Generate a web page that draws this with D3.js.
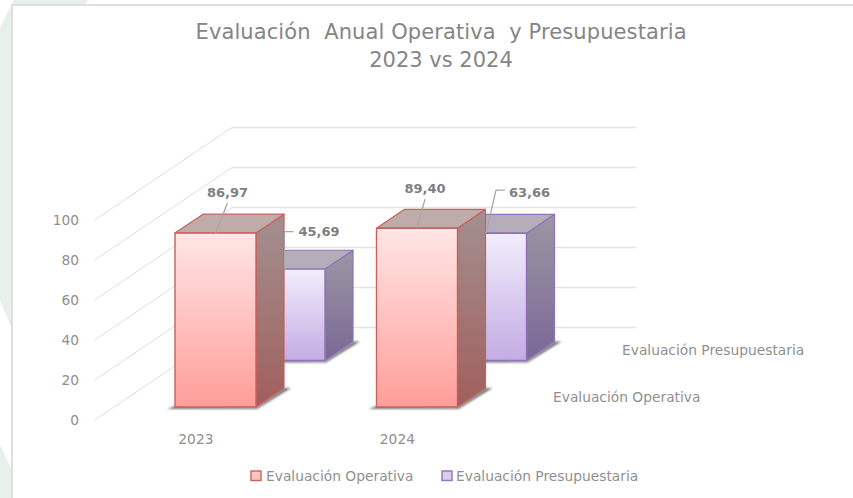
<!DOCTYPE html>
<html>
<head>
<meta charset="utf-8">
<script src="https://cdn.jsdelivr.net/npm/d3@7"></script>
<style>
    html, body { margin: 0; padding: 0; background: #fff; }
    svg { display: block; }
    text { font-family: "DejaVu Sans", sans-serif; fill: #8f8f8f; }
    .title { font-size: 21px; fill: #858585; }
    .tick-label { font-size: 13.8px; }
    .value-label { font-size: 13px; font-weight: bold; fill: #7f7f7f; }
</style>
</head>
<body>
<script>
const categories = ['2023', '2024'];
const seriesNames = ['Evaluación Operativa', 'Evaluación Presupuestaria'];
const operativa = [86.97, 89.40];
const presupuestaria = [45.69, 63.66];
const yTicks = [0, 20, 40, 60, 80, 100];

/**
 * Visual configs.
 */
const visWidth = 853, visHeight = 498,
    baseY = 407,
    barDepth = 0.406, // Depth of a bar, in units of the series step
    wallDepth = 1.71,
    floorFront = -0.284;

const seriesStyles = [
    { stroke: '#c8605c', front: ['#ffe6e6', '#ff9d99'], side: ['#a39090', '#a05f5c'], top: '#c0abab', swatch: '#f9c5c3' },
    { stroke: '#8f72b8', front: ['#f2edfc', '#c3ace3'], side: ['#9c96a3', '#7a6896'], top: '#b5aeba', swatch: '#d9cbee' }
];

// Leader line bends and label anchors, relative to the top centre of the bar's front face
const leaders = [
    [{ points: [[12, -30]], label: [12, -41], anchor: 'middle' }, { points: [[0, -37.5], [9, -37.5]], label: [14, -37.5], anchor: 'start' }],
    [{ points: [[8, -29]], label: [8, -40], anchor: 'middle' }, { points: [[10, -43], [19, -43]], label: [23, -41], anchor: 'start' }]
];

/**
 * D3.
 */
const xScale = d3.scaleBand().domain(categories).range([175, 457.5]).paddingInner(0.598).paddingOuter(0);
const yScale = d3.scaleLinear().domain([0, 100]).range([baseY, baseY - 200]);
const depthX = d3.scaleLinear().domain([0, 1]).range([0, 69]);
const depthY = d3.scaleLinear().domain([0, 1]).range([0, -46.5]);
const formatValue = v => d3.format('.2f')(v).replace('.', ',');
const line = d3.line();

// Oblique projection: x on screen, value, depth
const project = (px, value, z) => [px + depthX(z), yScale(value) + depthY(z)];

const svg = d3.select('body').append('svg').attr('width', visWidth).attr('height', visHeight);
const defs = svg.append('defs');

defs.append('filter').attr('id', 'floor-shadow')
    .attr('x', '-20%').attr('y', '-50%').attr('width', '140%').attr('height', '200%')
    .append('feGaussianBlur').attr('stdDeviation', 1.1);

function addGradient(id, stops, x2, y2) {
    const g = defs.append('linearGradient').attr('id', id)
        .attr('x1', 0).attr('y1', 0).attr('x2', x2).attr('y2', y2);
    g.append('stop').attr('offset', 0).attr('stop-color', stops[0]);
    g.append('stop').attr('offset', 1).attr('stop-color', stops[1]);
}

seriesStyles.forEach((s, i) => {
    addGradient('front-' + i, s.front, 0, 1);
    addGradient('side-' + i, s.side, 0, 1);
});

/**
 * Page background and the chart panel.
 */
svg.append('path').attr('fill', '#e9efea')
    .attr('d', 'M14,0 L88,0 L85,5 L12,5 L12,330 L0,300 L0,28 Z');
svg.append('path').attr('fill', '#e9efea')
    .attr('d', 'M0,445 L12,470 L12,498 L0,498 Z');
svg.append('rect')
    .attr('x', 12).attr('y', 5).attr('width', visWidth).attr('height', visHeight)
    .attr('fill', '#fff').attr('stroke', '#dcdcdc').attr('stroke-width', 1.8);

/**
 * Title.
 */
const title = svg.append('text').attr('class', 'title').attr('text-anchor', 'middle');
title.append('tspan').attr('x', 441).attr('y', 39).attr('textLength', 491)
    .text('Evaluación  Anual Operativa  y Presupuestaria').attr('xml:space', 'preserve');
title.append('tspan').attr('x', 441).attr('y', 67).text('2023 vs 2024');

/**
 * Walls.
 */
const grid = svg.append('g').attr('fill', 'none');
const wallStart = project(xScale('2023') - 61, 0, floorFront)[0];
const wallCorner = project(xScale('2023') - 61, 0, wallDepth)[0];

grid.selectAll('.diag').data(yTicks).join('line').attr('class', 'diag')
    .attr('x1', wallStart).attr('x2', wallCorner)
    .attr('y1', d => project(0, d, floorFront)[1])
    .attr('y2', d => project(0, d, wallDepth)[1])
    .attr('stroke', '#dcdcdc').attr('stroke-width', 1);

grid.selectAll('.wall').data(yTicks).join('line').attr('class', 'wall')
    .attr('x1', wallCorner).attr('x2', 636)
    .attr('y1', d => project(0, d, wallDepth)[1])
    .attr('y2', d => project(0, d, wallDepth)[1])
    .attr('stroke', '#e4e4e4').attr('stroke-width', 1.4);

/**
 * Axes.
 */
const yAxis = svg.append('g')
    .attr('transform', 'translate(83,' + (project(0, 0, floorFront)[1] - baseY) + ')')
    .call(d3.axisLeft(yScale).tickValues(yTicks).tickSize(0).tickPadding(4));
yAxis.select('.domain').remove();
yAxis.selectAll('text').attr('class', 'tick-label')
    .style('font-family', '"DejaVu Sans", sans-serif');

svg.selectAll('.cat-label').data(categories).join('text')
    .attr('class', 'cat-label tick-label')
    .attr('text-anchor', 'middle')
    .attr('x', d => project(xScale(d) + xScale.bandwidth() / 2, 0, floorFront)[0])
    .attr('y', 444)
    .text(d => d);

svg.selectAll('.series-label').data(seriesNames).join('text')
    .attr('class', 'series-label tick-label')
    .attr('x', (d, i) => project(539, 0, i + barDepth / 2)[0])
    .attr('y', (d, i) => project(539, 0, i + barDepth / 2)[1] + 4)
    .text(d => d);

/**
 * Bars: back series first so the front one covers it.
 */
const seriesValues = [operativa, presupuestaria];
const barData = [1, 0].flatMap(s => categories.map((c, i) => ({ category: c, catIdx: i, series: s, value: seriesValues[s][i] })));

const bars = svg.append('g').selectAll('.bar').data(barData).join('g').attr('class', 'bar');

bars.each(function(d) {
    const g = d3.select(this),
        style = seriesStyles[d.series],
        x0 = xScale(d.category),
        x1 = x0 + xScale.bandwidth(),
        z0 = d.series,
        z1 = d.series + barDepth;

    const face = pts => line(pts) + 'Z';

    // Shadow on the floor
    g.append('path')
        .attr('d', face([
            [project(x0, 0, z0)[0] - 8, project(x0, 0, z0)[1] + 2],
            [project(x1, 0, z0)[0] + 1, project(x1, 0, z0)[1] + 2],
            [project(x1, 0, z1)[0] + 7, project(x1, 0, z1)[1]],
            project(x1, 0, z1),
            project(x1, 0, z0),
            [project(x0, 0, z0)[0], project(x0, 0, z0)[1] - 1]
        ]))
        .attr('fill', '#555').attr('opacity', 0.8).attr('filter', 'url(#floor-shadow)');

    g.append('path')
        .attr('d', face([project(x1, d.value, z0), project(x1, d.value, z1), project(x1, 0, z1), project(x1, 0, z0)]))
        .attr('fill', 'url(#side-' + d.series + ')').attr('stroke', style.stroke).attr('stroke-width', 1.2).attr('stroke-linejoin', 'round');
    g.append('path')
        .attr('d', face([project(x0, d.value, z0), project(x0, d.value, z1), project(x1, d.value, z1), project(x1, d.value, z0)]))
        .attr('fill', style.top).attr('stroke', style.stroke).attr('stroke-width', 1.2).attr('stroke-linejoin', 'round');
    g.append('path')
        .attr('d', face([project(x0, d.value, z0), project(x1, d.value, z0), project(x1, 0, z0), project(x0, 0, z0)]))
        .attr('fill', 'url(#front-' + d.series + ')').attr('stroke', style.stroke).attr('stroke-width', 1.4).attr('stroke-linejoin', 'round');
});

// The front bars sit last, so leaders and labels go on top of everything
const labels = svg.append('g').selectAll('.value').data(barData).join('g').attr('class', 'value');

labels.each(function(d) {
    const g = d3.select(this),
        leader = leaders[d.catIdx][d.series],
        start = project(xScale(d.category) + xScale.bandwidth() / 2, d.value, d.series),
        pts = [start].concat(leader.points.map(p => [start[0] + p[0], start[1] + p[1]]));

    g.append('path').attr('d', line(pts)).attr('fill', 'none').attr('stroke', '#a6a6a6').attr('stroke-width', 1.3);
    g.append('text').attr('class', 'value-label')
        .attr('text-anchor', leader.anchor)
        .attr('x', start[0] + leader.label[0])
        .attr('y', start[1] + leader.label[1] + 4.5)
        .text(formatValue(d.value));
});

/**
 * Legend.
 */
const legendX = [[251, 266], [442, 456]];
const legend = svg.append('g').selectAll('.legend').data(seriesNames).join('g').attr('class', 'legend');
legend.append('rect')
    .attr('x', (d, i) => legendX[i][0]).attr('y', 471).attr('width', 10).attr('height', 9.5)
    .attr('fill', (d, i) => seriesStyles[i].swatch)
    .attr('stroke', (d, i) => seriesStyles[i].stroke).attr('stroke-width', 1.4);
legend.append('text').attr('class', 'tick-label')
    .attr('x', (d, i) => legendX[i][1]).attr('y', 481)
    .text(d => d);
</script>
</body>
</html>
